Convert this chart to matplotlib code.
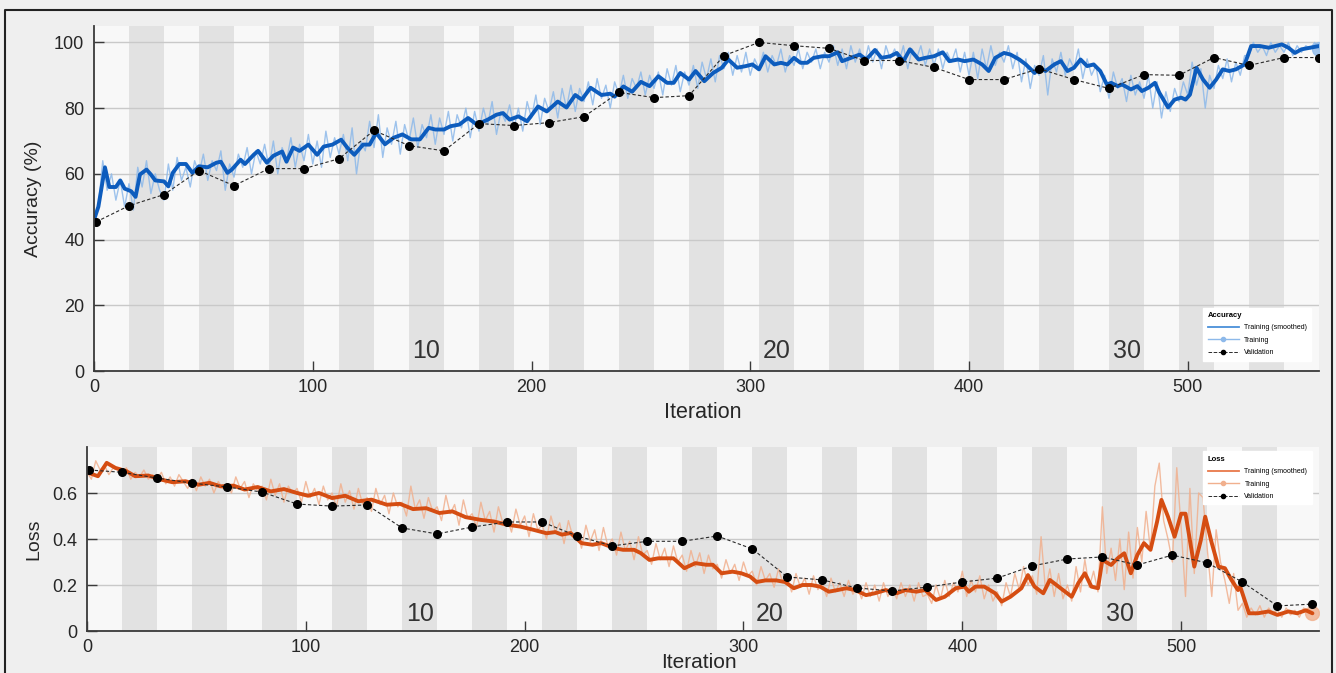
import matplotlib
matplotlib.use("Agg")
import matplotlib.pyplot as plt
from matplotlib.lines import Line2D
import numpy as np

plt.rcParams['font.family'] = ['Liberation Sans', 'DejaVu Sans']

# ---------------- data ----------------
ITERS_PER_EPOCH = 16
N_EPOCHS = 35
epoch_labels = [10, 20, 30]

x_ticks = [0, 100, 200, 300, 400, 500]
acc_ticks = [0, 20, 40, 60, 80, 100]
loss_ticks = [0, 0.2, 0.4, 0.6]
loss_tick_labels = ["0", "0.2", "0.4", "0.6"]

# raw training values, every 2 iterations (0..560)
raw_iter = list(range(0, 561, 2))
acc_raw = [
    46, 50, 64, 55, 60, 52, 58, 50,
    57, 49, 62, 56, 64, 54, 60, 55,
    52, 63, 55, 65, 58, 62, 56, 64,
    60, 66, 58, 64, 61, 67, 55, 63,
    59, 66, 62, 68, 60, 67, 63, 69,
    62, 70, 60, 68, 64, 71, 62, 69,
    64, 72, 63, 70, 62, 73, 65, 71,
    66, 72, 64, 74, 60, 70, 67, 76,
    68, 78, 65, 74, 69, 76, 66, 75,
    70, 77, 68, 75, 71, 78, 69, 77,
    72, 79, 70, 78, 74, 80, 71, 79,
    73, 80, 75, 82, 72, 79, 76, 81,
    74, 80, 73, 82, 77, 84, 75, 83,
    79, 85, 77, 86, 80, 87, 79, 86,
    82, 88, 81, 89, 83, 87, 80, 88,
    84, 90, 83, 89, 86, 91, 84, 90,
    86, 91, 84, 92, 87, 93, 85, 91,
    87, 93, 86, 94, 89, 95, 88, 96,
    92, 97, 90, 96, 91, 97, 90, 95,
    92, 97, 91, 96, 93, 98, 91, 96,
    93, 98, 92, 97, 94, 98, 92, 97,
    94, 99, 93, 98, 92, 99, 94, 98,
    93, 99, 94, 98, 92, 99, 95, 98,
    94, 99, 92, 98, 95, 99, 93, 98,
    93, 98, 92, 97, 94, 98, 91, 97,
    90, 97, 89, 98, 92, 99, 93, 97,
    94, 99, 92, 97, 88, 95, 86, 93,
    90, 96, 84, 95, 91, 97, 90, 95,
    92, 98, 89, 95, 90, 93, 85, 90,
    83, 91, 86, 89, 82, 90, 84, 88,
    83, 90, 80, 88, 77, 85, 79, 86,
    82, 88, 84, 94, 87, 92, 80, 90,
    86, 93, 89, 95, 88, 94, 90, 96,
    96, 100, 97, 99, 96, 100, 97, 99,
    97, 100, 96, 99, 97, 99, 98, 100,
    98,
]
loss_raw = [
    0.69, 0.66, 0.74, 0.70, 0.72, 0.68, 0.71, 0.70,
    0.68, 0.71, 0.66, 0.69, 0.67, 0.70, 0.66, 0.68,
    0.66, 0.69, 0.64, 0.67, 0.63, 0.68, 0.65, 0.62,
    0.66, 0.61, 0.67, 0.63, 0.66, 0.60, 0.65, 0.62,
    0.64, 0.60, 0.67, 0.62, 0.65, 0.58, 0.64, 0.61,
    0.63, 0.57, 0.66, 0.59, 0.64, 0.56, 0.63, 0.60,
    0.62, 0.56, 0.65, 0.58, 0.62, 0.55, 0.63, 0.57,
    0.60, 0.54, 0.64, 0.56, 0.61, 0.53, 0.62, 0.55,
    0.58, 0.52, 0.62, 0.55, 0.59, 0.51, 0.60, 0.54,
    0.56, 0.50, 0.63, 0.53, 0.57, 0.49, 0.58, 0.52,
    0.54, 0.48, 0.59, 0.51, 0.55, 0.46, 0.57, 0.49,
    0.51, 0.45, 0.56, 0.48, 0.52, 0.43, 0.54, 0.47,
    0.49, 0.43, 0.53, 0.46, 0.50, 0.41, 0.51, 0.44,
    0.46, 0.40, 0.50, 0.43, 0.47, 0.38, 0.48, 0.41,
    0.43, 0.36, 0.46, 0.39, 0.44, 0.35, 0.45, 0.37,
    0.40, 0.33, 0.43, 0.35, 0.39, 0.31, 0.41, 0.33,
    0.35, 0.29, 0.38, 0.31, 0.36, 0.28, 0.37, 0.30,
    0.33, 0.26, 0.35, 0.28, 0.34, 0.25, 0.33, 0.27,
    0.29, 0.23, 0.31, 0.25, 0.29, 0.22, 0.30, 0.24,
    0.26, 0.20, 0.28, 0.22, 0.25, 0.19, 0.27, 0.21,
    0.23, 0.17, 0.25, 0.19, 0.23, 0.16, 0.24, 0.18,
    0.21, 0.15, 0.23, 0.17, 0.21, 0.15, 0.22, 0.16,
    0.19, 0.14, 0.21, 0.15, 0.20, 0.13, 0.21, 0.15,
    0.19, 0.14, 0.21, 0.15, 0.20, 0.13, 0.21, 0.15,
    0.16, 0.12, 0.20, 0.14, 0.22, 0.15, 0.21, 0.17,
    0.26, 0.15, 0.22, 0.17, 0.24, 0.14, 0.20, 0.13,
    0.17, 0.11, 0.21, 0.15, 0.25, 0.18, 0.28, 0.20,
    0.24, 0.16, 0.41, 0.18, 0.27, 0.15, 0.25, 0.14,
    0.20, 0.13, 0.28, 0.17, 0.31, 0.19, 0.26, 0.17,
    0.54, 0.25, 0.36, 0.22, 0.40, 0.18, 0.43, 0.23,
    0.45, 0.30, 0.52, 0.35, 0.63, 0.73, 0.48, 0.40,
    0.30, 0.71, 0.45, 0.15, 0.62, 0.25, 0.60, 0.58,
    0.35, 0.15, 0.44, 0.30, 0.22, 0.12, 0.25, 0.09,
    0.12, 0.06, 0.10, 0.07, 0.11, 0.06, 0.10, 0.08,
    0.09, 0.06, 0.10, 0.07, 0.09, 0.06, 0.10, 0.08,
    0.08,
]

# smoothed training curves (iteration, value)
acc_smooth_iter = [0, 2, 5, 7, 10, 12, 14, 17, 19, 21, 24, 26, 28, 32, 34, 36, 39, 42, 45, 48,
                   52, 56, 58, 61, 63, 67, 69, 73, 75, 79, 82, 86, 88, 91, 94, 98, 102, 105, 109, 113,
                   116, 119, 123, 126, 129, 133, 137, 141, 145, 149, 153, 156, 160, 163, 167, 171, 175, 180, 184, 187,
                   190, 194, 198, 203, 207, 212, 216, 220, 223, 227, 232, 236, 238, 242, 246, 250, 254, 258, 262, 265,
                   268, 272, 275, 279, 283, 287, 290, 294, 298, 301, 304, 307, 311, 314, 317, 320, 323, 326, 329, 333,
                   336, 340, 342, 346, 350, 353, 357, 360, 364, 367, 370, 373, 377, 380, 384, 388, 391, 395, 398, 402,
                   406, 409, 412, 416, 419, 423, 426, 430, 432, 435, 439, 442, 445, 448, 451, 454, 457, 460, 463, 465,
                   468, 470, 474, 477, 479, 482, 485, 487, 491, 494, 497, 499, 501, 504, 507, 510, 513, 516, 519, 522,
                   526, 529, 533, 537, 540, 543, 546, 549, 552, 556, 560]
acc_smooth = [46, 50, 62, 56, 56, 58, 55.5, 54.7, 53, 59.8, 61.3, 59.8, 58, 57.7, 56.2, 60.3, 63, 63, 60.3, 62.3,
              62, 63.4, 63.7, 60.3, 61.3, 64.3, 63, 65.8, 67, 63.4, 65.5, 66.8, 63.7, 68, 67, 68.9, 65.8, 68.3, 68.9, 70.4,
              67.8, 65.8, 68.9, 68.9, 72.5, 69, 71, 72, 70.5, 70.5, 74, 73.5, 73.5, 74.5, 75, 77, 75, 76.5, 78, 78.5,
              76.5, 77.5, 76, 80.5, 79, 82, 80.2, 84, 82.6, 86.2, 84, 84.4, 83.5, 86.6, 85, 88, 86.7, 89.7, 87.7, 87.7,
              90.7, 88.7, 91.3, 88.2, 90.7, 92.3, 94.8, 92.3, 92.8, 93.3, 91.8, 95.8, 93.3, 93.8, 93.3, 95.3, 93.8, 93.8, 95.3, 95.8,
              95.8, 97, 94.3, 95.3, 96.3, 94.8, 97.7, 95.3, 95.8, 96.8, 94.3, 97.9, 94.8, 95.3, 95.8, 97, 94.3, 94.8, 94.3, 94.8,
              93.3, 91.3, 95.3, 96.8, 96.3, 94.8, 93.3, 90.7, 92.3, 91.3, 93.3, 94.3, 91.3, 92.3, 94.8, 92.8, 93.3, 91.3, 87.2, 87.7,
              86.7, 87.2, 85.7, 86.7, 85.2, 86.2, 87.7, 84.7, 80.2, 82.6, 83.2, 82.6, 84.1, 92.3, 88.7, 86.2, 88.7, 91.8, 91.3, 91.8,
              93.3, 98.9, 98.9, 98.4, 98.9, 99.4, 98.4, 96.8, 97.9, 98.4, 98.9]

loss_smooth_iter = [0, 5, 9, 13, 18, 22, 28, 34, 39, 45, 51, 56, 61, 67, 72, 78, 84, 90, 96, 101,
                    106, 112, 118, 124, 130, 137, 143, 149, 155, 161, 167, 173, 180, 186, 192, 198, 204, 210, 214, 217,
                    221, 226, 231, 235, 241, 245, 250, 253, 257, 261, 264, 268, 273, 278, 283, 286, 290, 295, 299, 303,
                    306, 310, 315, 319, 323, 327, 331, 335, 339, 343, 347, 351, 356, 360, 365, 370, 374, 379, 383, 388,
                    392, 397, 401, 403, 406, 410, 415, 418, 422, 427, 430, 433, 437, 440, 444, 447, 450, 453, 456, 459,
                    462, 464, 468, 471, 474, 477, 480, 483, 486, 489, 491, 494, 497, 500, 502, 506, 509, 511, 514, 517,
                    520, 523, 526, 527, 531, 535, 540, 544, 549, 553, 557, 560]
loss_smooth = [0.69, 0.673, 0.731, 0.709, 0.695, 0.673, 0.676, 0.658, 0.647, 0.651, 0.636, 0.644, 0.629, 0.632, 0.615, 0.626, 0.607, 0.617, 0.6, 0.588,
               0.6, 0.578, 0.588, 0.564, 0.571, 0.549, 0.553, 0.53, 0.534, 0.513, 0.52, 0.495, 0.483, 0.476, 0.462, 0.454, 0.44, 0.425, 0.43, 0.419,
               0.426, 0.382, 0.375, 0.382, 0.36, 0.353, 0.353, 0.339, 0.309, 0.316, 0.316, 0.316, 0.273, 0.295, 0.288, 0.288, 0.251, 0.258, 0.251, 0.237,
               0.213, 0.22, 0.22, 0.213, 0.186, 0.2, 0.2, 0.193, 0.171, 0.178, 0.186, 0.178, 0.156, 0.164, 0.178, 0.164, 0.178, 0.171, 0.178, 0.135,
               0.149, 0.186, 0.193, 0.171, 0.193, 0.193, 0.164, 0.128, 0.149, 0.186, 0.243, 0.193, 0.164, 0.222, 0.193, 0.171, 0.149, 0.208, 0.251, 0.193,
               0.186, 0.309, 0.287, 0.316, 0.338, 0.251, 0.331, 0.382, 0.353, 0.475, 0.57, 0.497, 0.41, 0.51, 0.51, 0.28, 0.395, 0.497, 0.382, 0.28,
               0.273, 0.222, 0.178, 0.193, 0.077, 0.077, 0.085, 0.07, 0.085, 0.077, 0.09, 0.077]

# validation (iteration 1, then every 16 iterations)
val_iter = [1] + list(range(16, 561, 16))
acc_val = [45.4, 50.3, 53.7, 61, 56.4, 61.6, 61.6, 64.6, 73.2, 68.6, 67, 75.3, 74.7, 75.6, 77.4, 84.8, 83.2, 83.8,
           96, 100, 99, 98.2, 94.5, 94.5, 92.4, 88.7, 88.7, 92, 88.7, 86, 90.2, 90, 95.4, 93, 95.4, 95.4]
loss_val = [0.70, 0.69, 0.665, 0.643, 0.626, 0.604, 0.552, 0.543, 0.548, 0.448, 0.422, 0.452, 0.474, 0.474, 0.413, 0.37,
            0.39, 0.39, 0.413, 0.357, 0.235, 0.222, 0.187, 0.174, 0.191, 0.213, 0.23, 0.283, 0.313, 0.322, 0.287, 0.33,
            0.296, 0.213, 0.109, 0.117]

# ---------------- style ----------------
W, H = 1336, 673
FIG_BG = '#efefef'
BAND_LIGHT = '#f8f8f8'
BAND_DARK = '#e2e2e2'
GRID = '#c9c9c9'
AX_COL = '#3a3a3a'
TXT = '#262626'
ACC_SM = '#0d5cbd'
ACC_RAW = '#8db9ea'
LOSS_SM = '#d54d12'
LOSS_RAW = '#f1b08e'

fig = plt.figure(figsize=(W / 100, H / 100), dpi=100, facecolor=FIG_BG)

ax1 = fig.add_axes([94 / W, 1 - 371 / H, (1319 - 94) / W, (371 - 26) / H])
ax2 = fig.add_axes([87 / W, 1 - 631 / H, (1319 - 87) / W, (631 - 447) / H])


def style_axes(ax, xmax, ymax):
    ax.set_facecolor(BAND_LIGHT)
    ax.set_xlim(0, xmax)
    ax.set_ylim(0, ymax)
    for e in range(1, N_EPOCHS + 1):
        if e % 2 == 0:
            ax.axvspan((e - 1) * ITERS_PER_EPOCH, e * ITERS_PER_EPOCH,
                       color=BAND_DARK, lw=0, zorder=0.2)
    ax.set_axisbelow(True)
    ax.grid(axis='y', color=GRID, lw=1.0)
    for s in ['top', 'right']:
        ax.spines[s].set_visible(False)
    for s in ['left', 'bottom']:
        ax.spines[s].set_color(AX_COL)
        ax.spines[s].set_linewidth(1.3)
        ax.spines[s].set_zorder(5)
    ax.tick_params(direction='in', length=7, width=1.0, color=AX_COL,
                   labelsize=13, labelcolor=TXT)
    ax.tick_params(axis='x', pad=6)
    ax.tick_params(axis='y', pad=7)
    ax.set_xticks(x_ticks)
    ax.set_xticklabels([str(t) for t in x_ticks])


style_axes(ax1, 560, 105)
style_axes(ax2, 563, 0.8)

ax1.set_yticks(acc_ticks)
ax1.set_yticklabels([str(t) for t in acc_ticks])
ax2.set_yticks(loss_ticks)
ax2.set_yticklabels(loss_tick_labels)

# epoch labels
for ax, ypos in [(ax1, 2.5), (ax2, 0.02)]:
    for ep in epoch_labels:
        ax.text((ep - 1) * ITERS_PER_EPOCH + ITERS_PER_EPOCH / 2, ypos, str(ep),
                ha='center', va='bottom', fontsize=18, color='#333333', zorder=6)

# accuracy curves
ax1.plot(raw_iter, acc_raw, color=ACC_RAW, lw=1.0, alpha=0.85, zorder=2)
ax1.plot(raw_iter[-1:], acc_raw[-1:], 'o', color=ACC_RAW, ms=10, alpha=0.8, zorder=2)
ax1.plot(acc_smooth_iter, acc_smooth, color=ACC_SM, lw=2.8, zorder=3,
         solid_joinstyle='round', solid_capstyle='round')
ax1.plot(val_iter, acc_val, '--', color='#2b2b2b', lw=0.8, dashes=(3, 2), zorder=4)
ax1.plot(val_iter, acc_val, 'o', color='black', ms=5.5, zorder=4)

# loss curves
ax2.plot(raw_iter, loss_raw, color=LOSS_RAW, lw=1.0, alpha=0.85, zorder=2)
ax2.plot(raw_iter[-1:], loss_raw[-1:], 'o', color=LOSS_RAW, ms=10, alpha=0.8, zorder=2)
ax2.plot(loss_smooth_iter, loss_smooth, color=LOSS_SM, lw=2.8, zorder=3,
         solid_joinstyle='round', solid_capstyle='round')
ax2.plot(val_iter, loss_val, '--', color='#2b2b2b', lw=0.8, dashes=(3, 2), zorder=4)
ax2.plot(val_iter, loss_val, 'o', color='black', ms=5.5, zorder=4)

# labels
ax1.set_ylabel('Accuracy (%)', fontsize=14, color=TXT)
ax1.yaxis.set_label_coords(-0.0424, 0.5)
ax1.set_xlabel('Iteration', fontsize=15.5, color=TXT)
ax1.xaxis.set_label_coords(0.497, -0.09)
ax2.set_ylabel('Loss', fontsize=14, color=TXT)
ax2.yaxis.set_label_coords(-0.0365, 0.5)
ax2.set_xlabel('Iteration', fontsize=15, color=TXT)
ax2.xaxis.set_label_coords(0.497, -0.122)


def make_legend(ax, title, sm_col, raw_col, loc, anchor):
    handles = [
        Line2D([], [], color=sm_col, lw=1.3),
        Line2D([], [], color=raw_col, lw=1.0, marker='o', ms=3),
        Line2D([], [], color='#2b2b2b', lw=0.7, ls='--', marker='o', ms=3, mfc='black', mec='black'),
    ]
    leg = ax.legend(handles, ['Training (smoothed)', 'Training', 'Validation'],
                    title=title, loc=loc, bbox_to_anchor=anchor, fontsize=5,
                    title_fontproperties={'size': 5.5, 'weight': 'bold'},
                    frameon=True, fancybox=False, framealpha=1.0, edgecolor='white',
                    handlelength=4.5, borderpad=0.6, labelspacing=0.8,
                    alignment='left')
    leg.get_frame().set_facecolor('white')
    leg.set_zorder(10)
    return leg


make_legend(ax1, 'Accuracy', '#4a90d9', ACC_RAW, 'lower right', (0.9967, 0.02))
make_legend(ax2, 'Loss', '#e8784a', LOSS_RAW, 'upper right', (0.9968, 0.995))

# outer border (left, top, right edges; bottom is cropped in the original)
border_x = [5 / W, 5 / W, 1332 / W, 1332 / W]
border_y = [0.0, 1 - 10 / H, 1 - 10 / H, 0.0]
fig.add_artist(Line2D(border_x, border_y, transform=fig.transFigure,
                      color='#222222', lw=1.5, zorder=20))

fig.savefig('out.png', dpi=100, facecolor=FIG_BG)
